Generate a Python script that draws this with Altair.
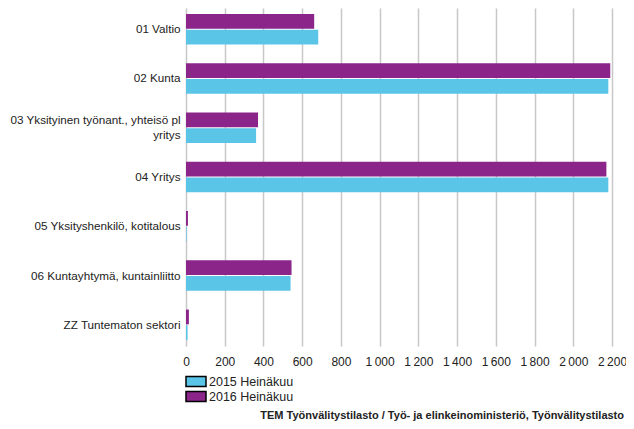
import altair as alt
import pandas as pd

categories = [
    "01 Valtio",
    "02 Kunta",
    "03 Yksityinen työnant., yhteisö pl yritys",
    "04 Yritys",
    "05 Yksityshenkilö, kotitalous",
    "06 Kuntayhtymä, kuntainliitto",
    "ZZ Tuntematon sektori",
]
series = ["2015 Heinäkuu", "2016 Heinäkuu"]
values_2015 = [683, 2181, 362, 2181, 3, 540, 8]
values_2016 = [662, 2191, 372, 2171, 10, 545, 15]
colors = ["#5BC5E8", "#8B2589"]
source = "TEM Työnvälitystilasto / Työ- ja elinkeinoministeriö, Työnvälitystilasto"

rows = []
for c, a, b in zip(categories, values_2015, values_2016):
    rows.append({"sektori": c, "sarja": series[0], "arvo": a})
    rows.append({"sektori": c, "sarja": series[1], "arvo": b})
df = pd.DataFrame(rows)

FONT = "Liberation Sans"

label_expr_y = (
    "datum.label == '03 Yksityinen työnant., yhteisö pl yritys' ? "
    "['03 Yksityinen työnant., yhteisö pl', 'yritys'] : datum.label"
)
label_expr_x = "replace(format(datum.value, ','), ',', '\u2009')"

chart = alt.Chart(df).mark_bar().encode(
    y=alt.Y(
        "sektori:N",
        sort=categories,
        title=None,
        scale=alt.Scale(paddingInner=0.38, paddingOuter=0.12),
        axis=alt.Axis(
            labelExpr=label_expr_y,
            labelFont=FONT,
            labelFontSize=11.7,
            labelColor="#222222",
            labelPadding=6,
            labelLimit=300,
            labelLineHeight=15,
            labelOffset={
                "condition": {
                    "test": "datum.value == '03 Yksityinen työnant., yhteisö pl yritys'",
                    "value": -7.5,
                },
                "value": 0,
            },
            ticks=False,
            domain=False,
            grid=False,
        ),
    ),
    yOffset=alt.YOffset("sarja:N", sort=[series[1], series[0]],
                        scale=alt.Scale(paddingInner=0.06)),
    x=alt.X(
        "arvo:Q",
        title=None,
        scale=alt.Scale(domain=[0, 2200], nice=False),
        axis=alt.Axis(
            values=list(range(0, 2201, 200)),
            labelExpr=label_expr_x,
            labelFont=FONT,
            labelFontSize=12,
            labelColor="#222222",
            labelPadding=10,
            labelFlush=False,
            labelOverlap=False,
            ticks=False,
            domain=False,
            grid=True,
            gridColor="#c8c8c8",
            gridWidth=1.5,
        ),
    ),
    color=alt.Color(
        "sarja:N",
        scale=alt.Scale(domain=series, range=colors),
        legend=alt.Legend(
            title=None,
            orient="none",
            legendX=-1,
            legendY=366,
            direction="vertical",
            symbolType="M-1,-0.5L1,-0.5L1,0.5L-1,0.5Z",
            symbolSize=400,
            symbolStrokeColor="black",
            symbolStrokeWidth=1.5,
            symbolOpacity=1,
            clipHeight=15,
            rowPadding=0,
            labelOffset=2,
            labelFont=FONT,
            labelFontSize=12.5,
            labelColor="#222222",
            padding=0,
        ),
    ),
).properties(
    width=426,
    height=338,
    title=alt.TitleParams(
        text=source,
        orient="bottom",
        anchor="end",
        frame="group",
        font=FONT,
        fontSize=11,
        fontWeight="bold",
        color="#222222",
        dx=12,
        offset=6,
    ),
    padding={"left": 178, "top": 0, "right": 14, "bottom": 75},
    autosize=alt.AutoSizeParams(type="none"),
).configure_view(stroke=None)

chart.save("out.html", embed_options={"renderer": "svg", "actions": False})
